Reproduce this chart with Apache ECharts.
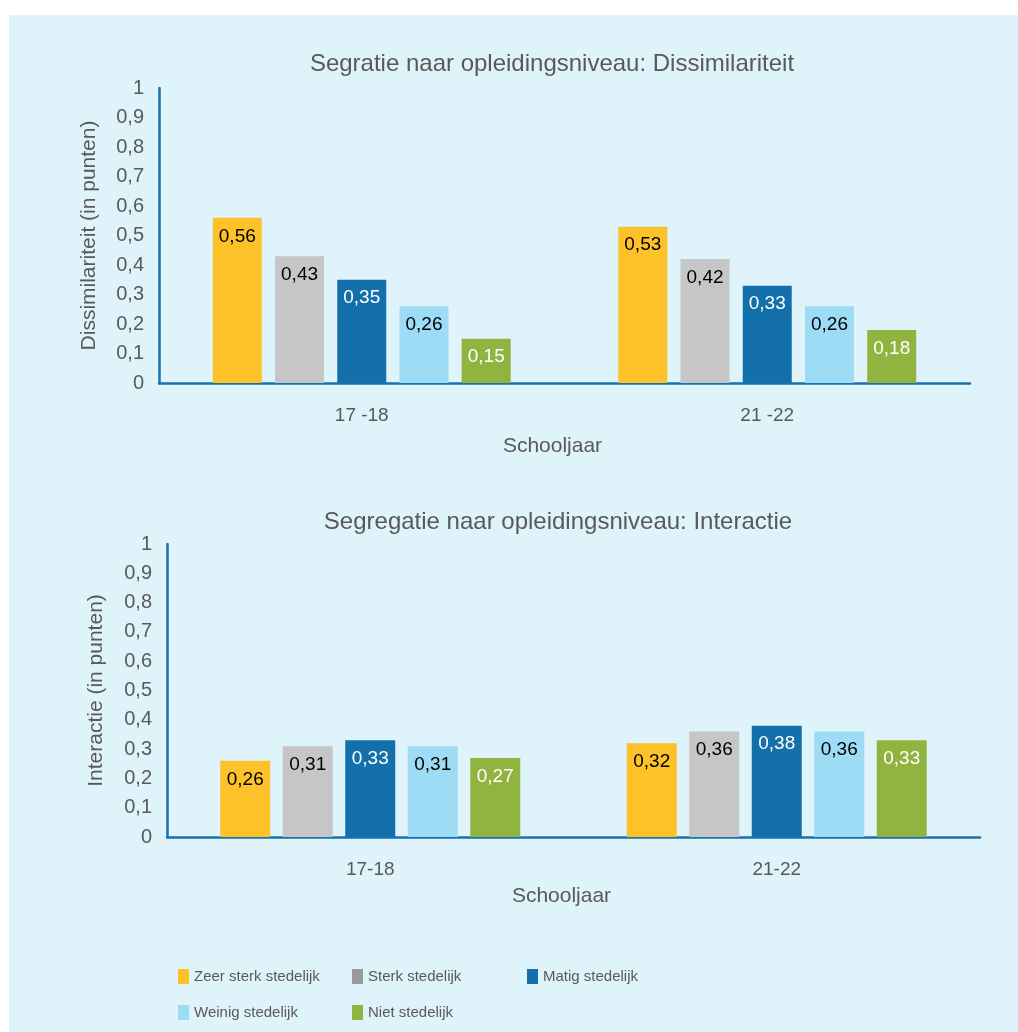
<!DOCTYPE html>
<html>
<head>
<meta charset="utf-8">
<script src="https://cdn.jsdelivr.net/npm/echarts@6/dist/echarts.min.js"></script>
<style>
  html, body { margin: 0; padding: 0; background: #ffffff; }
  #bg { position: absolute; left: 9px; top: 15px; width: 1009px; height: 1017px; background: #dff3fa; }
  #chart { position: absolute; left: 0; top: 0; width: 1018px; height: 1032px; }
</style>
</head>
<body>
<div id="bg"></div>
<div id="chart"></div>
<script>
// ---- Data ----
const categoriesTop = ['17 -18', '21 -22'];
const categoriesBottom = ['17-18', '21-22'];
const seriesNames = ['Zeer sterk stedelijk', 'Sterk stedelijk', 'Matig stedelijk', 'Weinig stedelijk', 'Niet stedelijk'];

// Dissimilariteit (top chart)
const disZeerSterk = [0.56, 0.53];
const disSterk = [0.43, 0.42];
const disMatig = [0.35, 0.33];
const disWeinig = [0.26, 0.26];
const disNiet = [0.15, 0.18];

// Interactie (bottom chart)
const intZeerSterk = [0.26, 0.32];
const intSterk = [0.31, 0.36];
const intMatig = [0.33, 0.38];
const intWeinig = [0.31, 0.36];
const intNiet = [0.27, 0.33];

const yMin = 0, yMax = 1, yInterval = 0.1;

// ---- Styles ----
const colors = ['#fdc12a', '#c6c6c6', '#1470ab', '#9edbf5', '#91b33f'];
const labelColors = ['#000000', '#000000', '#ffffff', '#000000', '#ffffff'];
const legendColors = ['#fdc12a', '#999999', '#1470ab', '#9edbf5', '#91b33f'];
const legendPos = [[178, 969], [352, 969], [527, 969], [178, 1005], [352, 1005]];
const axisColor = '#1a72ad';
const textColor = '#595959';
const FONT = 'Liberation Sans, Arial, sans-serif';

const disData = [disZeerSterk, disSterk, disMatig, disWeinig, disNiet];
const intData = [intZeerSterk, intSterk, intMatig, intWeinig, intNiet];

function fmtVal(v) { return v.toFixed(2).replace('.', ','); }
function fmtTick(v) { return String(Math.round(v * 10) / 10).replace('.', ','); }

function makeSeries(dataSets, idx, barWidth, barGap) {
  return dataSets.map((d, i) => ({
    name: seriesNames[i],
    type: 'bar',
    xAxisIndex: idx,
    yAxisIndex: idx,
    data: d,
    barWidth: barWidth,
    barGap: barGap,
    itemStyle: { color: colors[i] },
    label: {
      show: true,
      position: 'insideTop',
      distance: 9,
      color: labelColors[i],
      fontSize: 19,
      fontFamily: FONT,
      formatter: p => fmtVal(p.value)
    },
    emphasis: { disabled: true }
  }));
}

function xAxis(idx, cats, nameGap) {
  return {
    type: 'category',
    gridIndex: idx,
    data: cats,
    axisLine: { show: true, lineStyle: { color: axisColor, width: 2.5 } },
    axisTick: { show: false },
    axisLabel: { color: textColor, fontSize: 19, fontFamily: FONT, margin: 23 },
    name: 'Schooljaar',
    nameLocation: 'middle',
    nameGap: nameGap,
    nameTextStyle: { color: textColor, fontSize: 21, fontFamily: FONT, padding: [0, 24, 0, 0] }
  };
}

function yAxis(idx, name, nameGap) {
  return {
    type: 'value',
    gridIndex: idx,
    min: yMin, max: yMax, interval: yInterval,
    axisLine: { show: true, lineStyle: { color: axisColor, width: 2.5 } },
    axisTick: { show: false },
    splitLine: { show: false },
    axisLabel: { color: textColor, fontSize: 20, fontFamily: FONT, margin: 15, formatter: fmtTick },
    name: name,
    nameLocation: 'middle',
    nameRotate: 90,
    nameGap: nameGap,
    nameTextStyle: { color: textColor, fontSize: 21, fontFamily: FONT }
  };
}

const legends = seriesNames.map((n, i) => ({
  icon: 'rect',
  itemWidth: 11,
  itemHeight: 15,
  itemGap: 0,
  left: legendPos[i][0],
  top: legendPos[i][1],
  padding: 0,
  selectedMode: false,
  textStyle: { color: textColor, fontSize: 15, fontFamily: FONT },
  data: [{ name: n, itemStyle: { color: legendColors[i] } }]
}));

const option = {
  animation: false,
  backgroundColor: 'transparent',
  title: [
    { text: 'Segratie naar opleidingsniveau: Dissimilariteit', left: 547, top: 47,
      textAlign: 'center',
      textStyle: { color: textColor, fontSize: 24, fontWeight: 'normal', fontFamily: FONT } },
    { text: 'Segregatie naar opleidingsniveau: Interactie', left: 553, top: 505,
      textAlign: 'center',
      textStyle: { color: textColor, fontSize: 24, fontWeight: 'normal', fontFamily: FONT } }
  ],
  grid: [
    { left: 159, right: 48, top: 88, height: 295 },
    { left: 167, right: 38, top: 544, height: 293 }
  ],
  xAxis: [xAxis(0, categoriesTop, 53), xAxis(1, categoriesBottom, 49)],
  yAxis: [yAxis(0, 'Dissimilariteit (in punten)', 59), yAxis(1, 'Interactie (in punten)', 60)],
  legend: legends,
  series: makeSeries(disData, 0, 49, '27%').concat(makeSeries(intData, 1, 50, '25%'))
};

const chart = echarts.init(document.getElementById('chart'), null, { renderer: 'canvas' });
chart.setOption(option);
</script>
</body>
</html>
